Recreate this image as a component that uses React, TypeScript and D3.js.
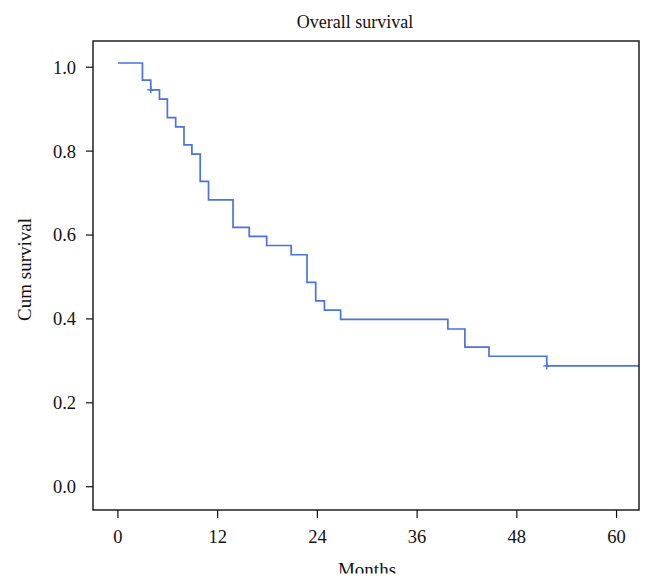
import React from "react";
import * as d3 from "d3";

const eventTimes = [0, 2.95, 3.95, 5, 5.95, 6.95, 7.95, 8.9, 9.9, 10.9, 13.85, 15.8, 17.9, 20.85, 22.75, 23.8, 24.85, 26.8, 39.7, 41.75, 44.65, 51.6];
const survival = [1.01, 0.969, 0.946, 0.924, 0.88, 0.858, 0.815, 0.793, 0.728, 0.684, 0.618, 0.597, 0.575, 0.553, 0.487, 0.443, 0.421, 0.399, 0.376, 0.333, 0.311, 0.288];
const censorTimes = [3.95, 51.6];
const censorValues = [0.946, 0.288];
const xTicks = [0, 12, 24, 36, 48, 60];
const yTicks = [0, 0.2, 0.4, 0.6, 0.8, 1.0];
const xMax = 62.7;

const W = 654;
const H = 587;
const L = 93, R = 639, T = 41, B = 510;
const FONT = "'Liberation Serif', 'Times New Roman', serif";
const BLUE = "#4a72e0";

export default function App() {
  const x = d3.scaleLinear().domain([-3, xMax]).range([L, R]);
  const y = d3.scaleLinear().domain([-0.0555, 1.0625]).range([B, T]);

  const pts: [number, number][] = eventTimes.map((t, i) => [t, survival[i]]);
  pts.push([xMax, survival[survival.length - 1]]);
  const line = d3
    .line<[number, number]>()
    .x((d) => x(d[0]))
    .y((d) => y(d[1]))
    .curve(d3.curveStepAfter);

  return (
    <svg
      width={W}
      height={H}
      style={{ position: "absolute", left: 0, top: 0, background: "#fff" }}
      fontFamily={FONT}
    >
      <defs>
        <clipPath id="plotclip">
          <rect x={L} y={T} width={R - L} height={B - T} />
        </clipPath>
        <clipPath id="bottomclip">
          <rect x={0} y={0} width={W} height={573.5} />
        </clipPath>
      </defs>
      <rect x={0} y={0} width={W} height={H} fill="#fff" />
      <text x={355} y={28} textAnchor="middle" fontSize={18} fill="#111">
        Overall survival
      </text>
      <g clipPath="url(#plotclip)">
        <path d={line(pts) || ""} fill="none" stroke={BLUE} strokeWidth={1.7} />
        {censorTimes.map((t, i) => (
          <g key={i} stroke={BLUE} strokeWidth={1.4}>
            <line x1={x(t) - 3.5} x2={x(t) + 3.5} y1={y(censorValues[i])} y2={y(censorValues[i])} />
            <line x1={x(t)} x2={x(t)} y1={y(censorValues[i]) - 3.5} y2={y(censorValues[i]) + 3.5} />
          </g>
        ))}
      </g>
      <rect x={L} y={T} width={R - L} height={B - T} fill="none" stroke="#111" strokeWidth={1.4} />
      {yTicks.map((v) => (
        <g key={v}>
          <line x1={L - 7} x2={L} y1={y(v)} y2={y(v)} stroke="#111" strokeWidth={1.2} />
          <text x={L - 17} y={y(v)} dy="0.35em" textAnchor="end" fontSize={18.5} fill="#111">
            {v.toFixed(1)}
          </text>
        </g>
      ))}
      {xTicks.map((v) => (
        <g key={v}>
          <line x1={x(v)} x2={x(v)} y1={B} y2={B + 8} stroke="#111" strokeWidth={1.2} />
          <text x={x(v)} y={542.5} textAnchor="middle" fontSize={18.5} fill="#111">
            {v}
          </text>
        </g>
      ))}
      <text
        transform={`translate(31, ${(T + B) / 2 - 6}) rotate(-90)`}
        textAnchor="middle"
        fontSize={19}
        fill="#111"
      >
        Cum survival
      </text>
      <g clipPath="url(#bottomclip)">
        <text x={367} y={575.5} textAnchor="middle" fontSize={19} fill="#111">
          Months
        </text>
      </g>
    </svg>
  );
}
